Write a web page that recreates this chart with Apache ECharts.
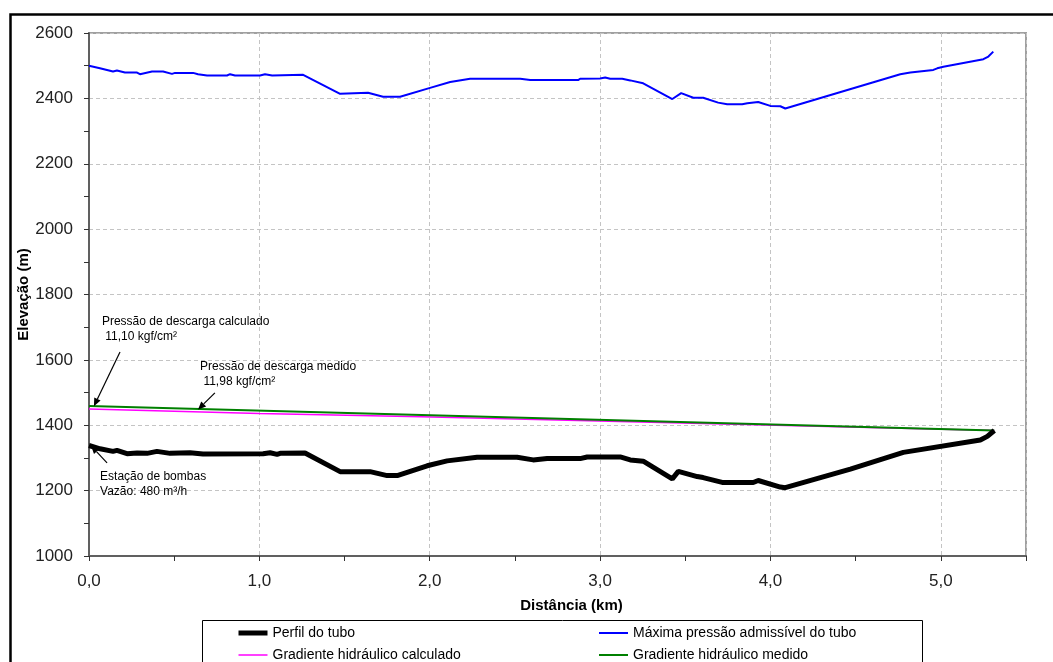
<!DOCTYPE html>
<html>
<head>
<meta charset="utf-8">
<script src="https://cdn.jsdelivr.net/npm/echarts@6/dist/echarts.min.js"></script>
<style>html,body{margin:0;padding:0;background:#fff}#c{width:1053px;height:662px}</style>
</head>
<body>
<div id="c"></div>
<script>
// ---- data (distance km, elevation m) ----
const seriesNames = ['Perfil do tubo', 'Máxima pressão admissível do tubo', 'Gradiente hidráulico calculado', 'Gradiente hidráulico medido'];
const perfilTubo = [
  [0,1338],[0.065,1328],[0.141,1320],[0.164,1323],[0.223,1313],[0.282,1315],[0.341,1314],[0.399,1320],
  [0.476,1314],[0.593,1316],[0.669,1312],[1.022,1313],[1.063,1316],[1.104,1311],[1.122,1314],[1.268,1315],
  [1.474,1258],[1.650,1258],[1.750,1246],[1.809,1246],[1.985,1276],[2.102,1291],[2.278,1302],[2.513,1302],
  [2.607,1294],[2.689,1298],[2.883,1298],[2.924,1303],[3.118,1303],[3.177,1294],[3.253,1290],[3.424,1236],
  [3.459,1259],[3.570,1243],[3.605,1240],[3.717,1225],[3.899,1225],[3.928,1231],[4.058,1211],[4.087,1209],
  [4.469,1266],[4.780,1317],[5.232,1355],[5.273,1366],[5.314,1384]
];
const maxPressao = [
  [0,2500],[0.064,2492],[0.141,2482],[0.164,2485],[0.211,2479],[0.282,2479],[0.299,2474],[0.370,2482],
  [0.435,2482],[0.487,2475],[0.505,2478],[0.611,2478],[0.640,2474],[0.693,2470],[0.810,2470],[0.828,2474],
  [0.857,2470],[1.004,2470],[1.033,2474],[1.075,2470],[1.257,2472],[1.474,2414],[1.638,2417],[1.726,2405],
  [1.826,2405],[2.002,2432],[2.120,2450],[2.237,2460],[2.531,2460],[2.590,2456],[2.871,2456],[2.883,2460],
  [3.000,2461],[3.030,2464],[3.059,2460],[3.130,2460],[3.177,2455],[3.253,2446],[3.424,2398],[3.476,2416],
  [3.547,2402],[3.605,2402],[3.693,2387],[3.746,2382],[3.834,2382],[3.864,2385],[3.875,2383],[3.928,2389],
  [3.999,2377],[4.058,2376],[4.087,2369],[4.762,2474],[4.821,2479],[4.956,2487],[4.979,2492],[5.015,2497],
  [5.250,2520],[5.279,2528],[5.308,2543]
];
const gradCalculado = [[0,1450],[1.0,1436],[1.95,1426],[5.314,1384]];
const gradMedido = [[0,1459],[5.314,1384]];
const xTicks = {min:0, max:5.5, interval:1, lastLabel:5.0};
const yTicks = {min:1000, max:2600, interval:200};
// annotations: [text lines, text anchor (km, m), arrow tail (km, m), arrow tip (km, m)]
const annotations = [
  {lines:['Pressão de descarga calculado',' 11,10 kgf/cm²'], at:[0.076,1716], tail:[0.182,1624], tip:[0.029,1458]},
  {lines:['Pressão de descarga medido',' 11,98 kgf/cm²'], at:[0.652,1579], tail:[0.739,1499], tip:[0.640,1448]},
  {lines:['Estação de bombas','Vazão: 480 m³/h'], at:[0.065,1244], tail:[0.106,1285], tip:[0.012,1337]}
];

const FONT = '"Liberation Sans", Arial, sans-serif';
const chart = echarts.init(document.getElementById('c'), null, {renderer:'canvas'});
const fmtX = v => (v > xTicks.lastLabel + 1e-9) ? '' : v.toFixed(1).replace('.', ',');
const fmtY = v => String(v);

const seriesStyle = [
  {color:'#000000', width:5},
  {color:'#0000ff', width:2},
  {color:'#ff00ff', width:1.5},
  {color:'#008000', width:2}
];
const legendItem = i => ({name:seriesNames[i], lineStyle:{width:seriesStyle[i].width, color:seriesStyle[i].color}});
const legendCommon = {orient:'vertical', top:626, padding:0, itemWidth:29, itemHeight:12, itemGap:8, height:40,
  itemStyle:{opacity:0, borderWidth:0},
  textStyle:{fontFamily:FONT, fontSize:14, color:'#000'}, selectedMode:false, z:10};

const option = {
  animation: false,
  backgroundColor: '#fff',
  grid: {left:89, right:27, top:33, bottom:106, show:true, borderColor:'#a0a0a0', borderWidth:2, backgroundColor:'transparent'},
  xAxis: {
    type:'value', min:xTicks.min, max:xTicks.max, interval:xTicks.interval,
    name:'Distância (km)', nameLocation:'middle', nameGap:42, nameMoveOverlap:false,
    nameTextStyle:{fontFamily:FONT, fontWeight:'bold', fontSize:15, color:'#000', padding:[0,0,0,28]},
    axisLine:{lineStyle:{color:'#606060', width:2}},
    axisTick:{show:true, length:5, lineStyle:{color:'#333', width:1}},
    minorTick:{show:true, splitNumber:2, length:5, lineStyle:{color:'#333', width:1}},
    axisLabel:{formatter:fmtX, fontFamily:FONT, fontSize:17, color:'#222', margin:17},
    splitLine:{show:true, lineStyle:{color:'#c4c4c4', type:[4,3], width:1}}
  },
  yAxis: {
    type:'value', min:yTicks.min, max:yTicks.max, interval:yTicks.interval,
    name:'Elevação (m)', nameLocation:'middle', nameGap:58, nameMoveOverlap:false,
    nameTextStyle:{fontFamily:FONT, fontWeight:'bold', fontSize:15, color:'#000'},
    axisLine:{show:true, lineStyle:{color:'#606060', width:2}},
    axisTick:{show:true, length:5, lineStyle:{color:'#333', width:1}},
    minorTick:{show:true, splitNumber:2, length:5, lineStyle:{color:'#333', width:1}},
    axisLabel:{formatter:fmtY, fontFamily:FONT, fontSize:17, color:'#222', margin:16},
    splitLine:{show:true, lineStyle:{color:'#c4c4c4', type:[4,3], width:1}}
  },
  legend: [
    Object.assign({}, legendCommon, {data:[legendItem(0), legendItem(2)], left:236}),
    Object.assign({}, legendCommon, {data:[legendItem(1), legendItem(3)], left:598})
  ],
  series: seriesNames.map((n, i) => ({
    name:n, type:'line', symbol:'none', z:[6,5,3,4][i],
    data:[perfilTubo, maxPressao, gradCalculado, gradMedido][i],
    lineStyle:{color:seriesStyle[i].color, width:seriesStyle[i].width},
    itemStyle:{color:seriesStyle[i].color}
  }))
};
chart.setOption(option);

// decorations: frame, legend box, annotation texts and arrows (placed from data coords)
const g = [
  {type:'rect', shape:{x:10.5, y:14.5, width:1100, height:700}, style:{fill:null, stroke:'#000', lineWidth:2.5}, z:0, silent:true},
  {type:'rect', shape:{x:202.5, y:620.5, width:720, height:60}, style:{fill:'#fff', stroke:'#000', lineWidth:1}, z:1, silent:true}
];
annotations.forEach(a => {
  const p = chart.convertToPixel({gridIndex:0}, a.at);
  const t = chart.convertToPixel({gridIndex:0}, a.tail);
  const h = chart.convertToPixel({gridIndex:0}, a.tip);
  a.lines.forEach((s, i) => {
    g.push({type:'text', x:p[0], y:p[1] + i*15, z:20, silent:true,
      style:{text:s, fontFamily:FONT, fontSize:12, fill:'#000', verticalAlign:'middle', align:'left'}});
  });
  const dx = h[0]-t[0], dy = h[1]-t[1], L = Math.hypot(dx, dy), ux = dx/L, uy = dy/L;
  const hl = 8, hw = 3.5;
  const bx = h[0]-ux*hl, by = h[1]-uy*hl;
  g.push({type:'line', z:20, silent:true, shape:{x1:t[0], y1:t[1], x2:bx, y2:by}, style:{stroke:'#000', lineWidth:1.2}});
  g.push({type:'polygon', z:20, silent:true, shape:{points:[[h[0],h[1]],[bx-uy*hw, by+ux*hw],[bx+uy*hw, by-ux*hw]]}, style:{fill:'#000'}});
});
chart.setOption({graphic: g});
</script>
</body>
</html>
